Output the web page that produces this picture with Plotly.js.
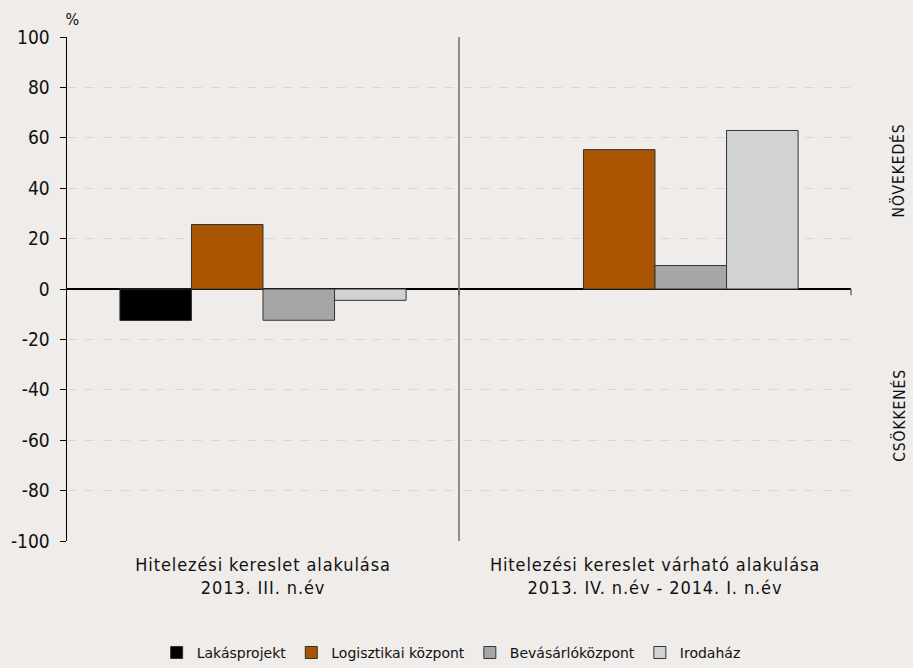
<!DOCTYPE html>
<html>
<head>
<meta charset="utf-8">
<script src="https://cdn.plot.ly/plotly-3.0.1.min.js"></script>
<style>
html,body{margin:0;padding:0;background:#efece9;}
#chart .xtick text, #chart .annotation-text { letter-spacing: 0.9px; }
</style>
</head>
<body>
<div id="chart" style="width:913px;height:668px;"></div>
<script>
const categories = ["Hitelezési kereslet alakulása<br>2013. III. n.év", "Hitelezési kereslet várható alakulása<br>2013. IV. n.év - 2014. I. n.év"];
const lakasprojekt = [-12.5, null];
const logisztikai = [25.6, 55.3];
const bevasarlo = [-12.4, 9.3];
const irodahaz = [-4.5, 62.9];
const seriesNames = ["Lakásprojekt", "Logisztikai központ", "Bevásárlóközpont", "Irodaház"];
const yTicks = [-100, -80, -60, -40, -20, 0, 20, 40, 60, 80, 100];

const colors = ["#000000", "#a85400", "#a6a6a6", "#d1d3d2"];
const values = [lakasprojekt, logisztikai, bevasarlo, irodahaz];
const font = "'DejaVu Sans Condensed', 'DejaVu Sans', sans-serif";
const legendFont = "'DejaVu Sans', sans-serif";

const traces = values.map((v, i) => ({
  type: 'bar',
  name: seriesNames[i],
  x: categories,
  y: v,
  marker: {color: colors[i], line: {color: '#333333', width: 1}},
  hoverinfo: 'none'
}));

const layout = {
  width: 913, height: 668,
  paper_bgcolor: '#efece9',
  plot_bgcolor: '#efece9',
  margin: {l: 67, r: 62, t: 37, b: 127, autoexpand: false},
  barmode: 'group',
  bargap: 0.27,
  bargroupgap: 0,
  font: {family: font, color: '#111', size: 14},
  xaxis: {
    showline: false, showgrid: false, zeroline: false, automargin: false,
    ticks: '', tickfont: {size: 18, family: font, color: '#111'},
    ticklabelstandoff: 11
  },
  yaxis: {
    range: [-100, 100], automargin: false,
    tickvals: yTicks,
    ticktext: yTicks.map(String),
    showline: true, linecolor: '#000', linewidth: 1.5,
    ticks: 'outside', ticklen: 6, tickcolor: '#000', tickwidth: 1,
    ticklabelstandoff: 6,
    showgrid: true, gridcolor: '#d9d5d1', griddash: 'dash', gridwidth: 1,
    zeroline: true, zerolinecolor: '#000', zerolinewidth: 1.5,
    tickfont: {size: 19, family: font, color: '#111'}
  },
  showlegend: true,
  legend: {
    orientation: 'h', x: 0.49, xanchor: 'center', y: -0.222, yanchor: 'middle',
    font: {size: 14, family: legendFont, color: '#111'},
    itemwidth: 30, tracegroupgap: 0, bgcolor: 'rgba(0,0,0,0)'
  },
  shapes: [
    {type: 'line', xref: 'x', yref: 'paper', x0: 0.5, x1: 0.5, y0: 0, y1: 1, line: {color: '#6e6e6e', width: 1.5}},
    {type: 'line', xref: 'x', yref: 'y', x0: 0.5, x1: 0.5, y0: 0, y1: -2.5, line: {color: '#6e6e6e', width: 2}},
    {type: 'line', xref: 'paper', yref: 'y', x0: 1, x1: 1, y0: 0, y1: -2.5, line: {color: '#6e6e6e', width: 1.5}}
  ],
  annotations: [
    {text: '%', xref: 'paper', yref: 'paper', x: 0.0, y: 1.0, xanchor: 'left', yanchor: 'bottom', yshift: 6, xshift: -3, showarrow: false, font: {size: 16, family: font, color: '#111'}},
    {text: 'NÖVEKEDÉS', xref: 'paper', yref: 'y', x: 1.061, y: 47, xanchor: 'center', yanchor: 'middle', textangle: -90, showarrow: false, font: {size: 15.5, family: font, color: '#111'}},
    {text: 'CSÖKKENÉS', xref: 'paper', yref: 'y', x: 1.061, y: -50, xanchor: 'center', yanchor: 'middle', textangle: -90, showarrow: false, font: {size: 15.5, family: font, color: '#111'}}
  ]
};

Plotly.newPlot('chart', traces, layout, {displayModeBar: false, staticPlot: true});
</script>
</body>
</html>
